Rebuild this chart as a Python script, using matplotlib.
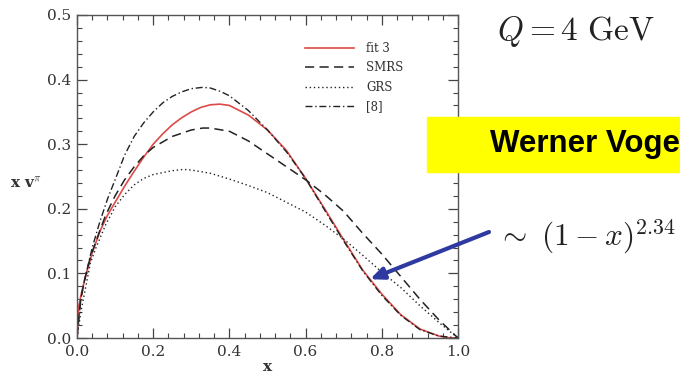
import numpy as np
import matplotlib
matplotlib.use("Agg")
import matplotlib.pyplot as plt
from matplotlib.ticker import MultipleLocator

# ---------------- DATA ---------------- #

fit3_x = [0.0, 0.005, 0.01, 0.02, 0.04, 0.06, 0.08, 0.10, 0.125, 0.15, 0.175, 0.20,
          0.225, 0.25, 0.275, 0.30, 0.325, 0.35, 0.375, 0.40, 0.45, 0.50, 0.55, 0.60,
          0.65, 0.70, 0.75, 0.80, 0.85, 0.90, 0.95, 0.975, 1.0]
fit3_y = [0.0, 0.05, 0.065, 0.09, 0.132, 0.165, 0.19, 0.21, 0.235, 0.258, 0.28, 0.300,
          0.316, 0.33, 0.341, 0.35, 0.357, 0.361, 0.362, 0.36, 0.345, 0.322, 0.29, 0.247,
          0.2, 0.152, 0.105, 0.068, 0.036, 0.014, 0.003, 0.0005, 0.0]

smrs_x = [0.0, 0.003, 0.01, 0.02, 0.035, 0.05, 0.075, 0.10, 0.125, 0.15, 0.175, 0.20,
          0.25, 0.30, 0.33, 0.35, 0.40, 0.45, 0.50, 0.55, 0.60, 0.65, 0.70, 0.75,
          0.80, 0.85, 0.90, 0.95, 1.0]
smrs_y = [0.0, 0.023, 0.06, 0.09, 0.125, 0.15, 0.19, 0.22, 0.245, 0.265, 0.282, 0.295,
          0.312, 0.322, 0.325, 0.325, 0.32, 0.305, 0.285, 0.265, 0.245, 0.222, 0.196, 0.162,
          0.13, 0.095, 0.06, 0.028, 0.0]

grs_x = [0.0, 0.01, 0.02, 0.035, 0.05, 0.075, 0.10, 0.125, 0.15, 0.175, 0.20, 0.25,
         0.28, 0.30, 0.35, 0.40, 0.45, 0.50, 0.55, 0.60, 0.65, 0.70, 0.75, 0.80,
         0.85, 0.90, 0.95, 1.0]
grs_y = [0.0, 0.04, 0.07, 0.116, 0.14, 0.175, 0.203, 0.222, 0.237, 0.247, 0.253, 0.259,
         0.261, 0.26, 0.255, 0.246, 0.236, 0.225, 0.21, 0.195, 0.175, 0.153, 0.128, 0.102,
         0.078, 0.05, 0.024, 0.0]

ref8_x = [0.0, 0.005, 0.01, 0.02, 0.04, 0.06, 0.08, 0.10, 0.125, 0.15, 0.175, 0.20,
          0.225, 0.25, 0.275, 0.30, 0.33, 0.35, 0.375, 0.40, 0.45, 0.50, 0.55, 0.60,
          0.65, 0.70, 0.75, 0.80, 0.85, 0.90, 0.95, 1.0]
ref8_y = [0.0, 0.03, 0.06, 0.09, 0.14, 0.18, 0.215, 0.245, 0.283, 0.312, 0.333, 0.35,
          0.364, 0.374, 0.381, 0.386, 0.388, 0.387, 0.382, 0.375, 0.352, 0.322, 0.288, 0.247,
          0.198, 0.15, 0.104, 0.066, 0.035, 0.013, 0.003, 0.0]

arrow_tip = (0.769, 0.091)

# ---------------- PLOT ---------------- #

plt.rcParams['mathtext.fontset'] = 'cm'
serif = 'DejaVu Serif'

fig = plt.figure(figsize=(6.8, 3.74), dpi=100)
ax = fig.add_axes([77 / 680, 1 - 338 / 374, 381 / 680, 323 / 374])

ax.plot(fit3_x, fit3_y, color='#dd4a48', lw=1.2, label='fit 3')
ax.plot(smrs_x, smrs_y, color='#222222', lw=1.1, ls=(0, (6, 3.5)), label='SMRS')
ax.plot(grs_x, grs_y, color='#222222', lw=1.0, ls=(0, (1, 2)), label='GRS')
ax.plot(ref8_x, ref8_y, color='#222222', lw=1.0, ls=(0, (5, 2, 1, 2)), label='[8]')

ax.set_xlim(0, 1)
ax.set_ylim(0, 0.5)
ax.xaxis.set_major_locator(MultipleLocator(0.2))
ax.xaxis.set_minor_locator(MultipleLocator(0.04))
ax.yaxis.set_major_locator(MultipleLocator(0.1))
ax.yaxis.set_minor_locator(MultipleLocator(0.02))
ax.tick_params(which='both', direction='in', top=True, right=True, color='#444444')
ax.tick_params(which='major', length=7, width=0.9)
ax.tick_params(which='minor', length=3.5, width=0.8)
ax.tick_params(axis='x', pad=5)
ax.tick_params(axis='y', pad=4)
for lab in ax.get_xticklabels() + ax.get_yticklabels():
    lab.set_family(serif)
    lab.set_fontsize(11)
    lab.set_color('#333333')
for sp in ax.spines.values():
    sp.set_color('#555555')
    sp.set_linewidth(1.0)

leg = ax.legend(loc='upper left', bbox_to_anchor=(0.57, 0.95), frameon=False,
                prop={'family': serif, 'size': 8.5}, handlelength=4.2,
                handletextpad=1.0, labelspacing=0.55)
for t in leg.get_texts():
    t.set_color('#333333')

fig.text(10 / 680, 1 - 188 / 374, r"x v$^{\pi}$", family=serif, fontsize=11,
         fontweight='bold', color='#333333', va='baseline')
fig.text(268 / 680, 0.0, "x", family=serif, fontsize=11, fontweight='bold',
         color='#333333', ha='center', va='bottom')

# right-hand annotations
fig.text(497 / 680, 1 - 40 / 374, r"$Q = 4\ \mathrm{GeV}$", fontsize=24,
         color='#222222', va='baseline')
fig.patches.append(plt.Rectangle((427 / 680, 1 - 172 / 374), 253 / 680, 55 / 374,
                                 transform=fig.transFigure, color='#ffff00', zorder=0))
fig.text(490 / 680, 1 - 144 / 374, "Werner Voge", family='Liberation Sans',
         fontweight='bold', fontsize=22.5, color='black', va='center')
fig.text(497 / 680, 1 - 245 / 374, r"$\sim\ (1-x)^{2.34}$", fontsize=22.5,
         color='#222222', va='baseline')

ax.annotate("", xy=arrow_tip, xycoords='data',
            xytext=(489 / 680, 1 - 232 / 374), textcoords='figure fraction',
            arrowprops=dict(arrowstyle='-|>,head_length=0.8,head_width=0.35',
                            color='#2e3aa0', lw=3, shrinkA=0, shrinkB=0))

fig.savefig('out.png', dpi=100)
